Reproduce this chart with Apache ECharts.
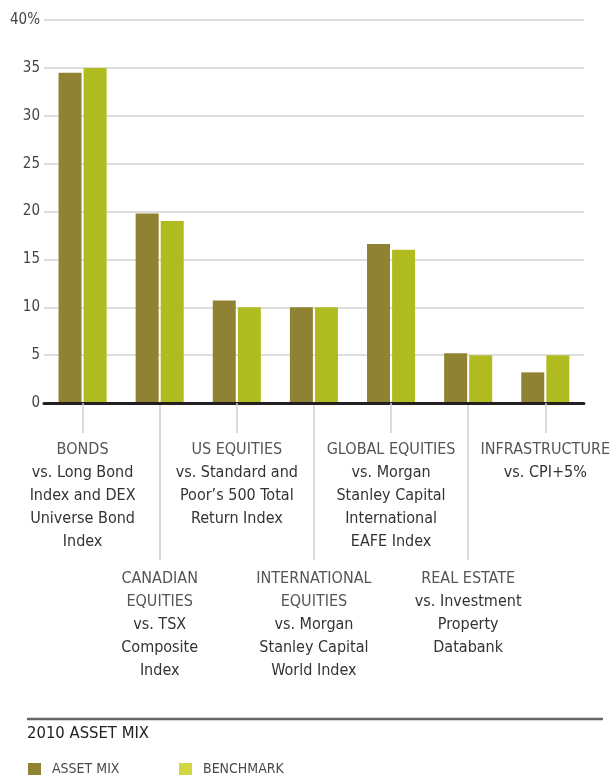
<!DOCTYPE html>
<html>
<head>
<meta charset="utf-8">
<script src="https://cdn.jsdelivr.net/npm/echarts@6/dist/echarts.min.js"></script>
<style>
html,body{margin:0;padding:0;background:#fff;}
#c{width:613px;height:776px;}
</style>
</head>
<body>
<div id="c"></div>
<script>
var categories = ['Bonds', 'Canadian Equities', 'US Equities', 'International Equities', 'Global Equities', 'Real Estate', 'Infrastructure'];
var categoryTitles = [['BONDS'], ['CANADIAN', 'EQUITIES'], ['US EQUITIES'], ['INTERNATIONAL', 'EQUITIES'], ['GLOBAL EQUITIES'], ['REAL ESTATE'], ['INFRASTRUCTURE']];
var categoryBenchmarks = [
  ['vs. Long Bond', 'Index and DEX', 'Universe Bond', 'Index'],
  ['vs. TSX', 'Composite', 'Index'],
  ['vs. Standard and', 'Poor\u2019s 500 Total', 'Return Index'],
  ['vs. Morgan', 'Stanley Capital', 'World Index'],
  ['vs. Morgan', 'Stanley Capital', 'International', 'EAFE Index'],
  ['vs. Investment', 'Property', 'Databank'],
  ['vs. CPI+5%']
];
var assetMix = [34.5, 19.8, 10.7, 10.0, 16.6, 5.2, 3.2];
var benchmark = [35.0, 19.0, 10.0, 10.0, 16.0, 5.0, 5.0];
var yTicks = [0, 5, 10, 15, 20, 25, 30, 35, 40];
var chartTitle = '2010 ASSET MIX';
var seriesNames = ['ASSET MIX', 'BENCHMARK'];

var FONT = "'Liberation Sans Narrow', 'DejaVu Sans Condensed', 'Roboto', sans-serif";
var C_ASSET = '#8f8232';
var C_BENCH = '#b0bb20';

var chart = echarts.init(document.getElementById('c'), null, {renderer: 'canvas'});

function labelFormatter(value, index) {
  var parts = [];
  if (index % 2 === 1) parts.push('{sp| }');
  categoryTitles[index].forEach(function (t) { parts.push('{t|' + t + '}'); });
  categoryBenchmarks[index].forEach(function (t) { parts.push('{b|' + t + '}'); });
  return parts.join('\n');
}

var legendText = {fontFamily: FONT, fontSize: 14, color: '#4a4a4a', padding: [0, 0, 0, 6]};

var option = {
  backgroundColor: '#fff',
  animation: false,
  textStyle: {fontFamily: FONT},
  grid: {left: 44, right: 29, top: 20, bottom: 373, containLabel: false},
  legend: [
    {
      data: [{name: seriesNames[0], itemStyle: {color: C_ASSET}}],
      left: 28, top: 762, itemWidth: 13, itemHeight: 12, icon: 'rect',
      padding: 0,
      textStyle: legendText
    },
    {
      data: [{name: seriesNames[1], itemStyle: {color: '#d2d640'}}],
      left: 179, top: 762, itemWidth: 13, itemHeight: 12, icon: 'rect',
      padding: 0,
      textStyle: legendText
    }
  ],
  xAxis: [
    {
      type: 'category',
      data: categories,
      position: 'bottom',
      axisLine: {show: true, lineStyle: {color: '#231f20', width: 3}},
      axisTick: {
        show: true, alignWithLabel: true, length: 30,
        interval: function (i) { return i % 2 === 0; },
        lineStyle: {color: '#cfcfcf', width: 1.5}
      },
      axisLabel: {
        interval: 0,
        margin: 35,
        formatter: labelFormatter,
        align: 'center',
        verticalAlign: 'top',
        rich: {
          sp: {lineHeight: 129, fontSize: 10, fontFamily: FONT},
          t: {fontFamily: FONT, fontSize: 16, lineHeight: 23, color: '#555'},
          b: {fontFamily: FONT, fontSize: 16, lineHeight: 23, color: '#333'}
        }
      },
      z: 5
    },
    {
      type: 'category',
      data: categories,
      position: 'bottom',
      axisLine: {show: false},
      axisTick: {
        show: true, alignWithLabel: true, length: 157,
        interval: function (i) { return i % 2 === 1; },
        lineStyle: {color: '#cfcfcf', width: 1.5}
      },
      axisLabel: {show: false}
    }
  ],
  yAxis: {
    type: 'value',
    min: 0, max: 40, interval: 5,
    axisLine: {show: false},
    axisTick: {show: false},
    splitLine: {lineStyle: {color: '#d3d3d3', width: 1.5}},
    axisLabel: {
      margin: 4,
      fontFamily: FONT, fontSize: 15, color: '#444',
      formatter: function (v) { return v === yTicks[yTicks.length - 1] ? v + '%' : String(v); }
    }
  },
  series: [
    {
      name: seriesNames[0], type: 'bar', data: assetMix,
      barWidth: 23, barGap: '9%',
      itemStyle: {color: C_ASSET}
    },
    {
      name: seriesNames[1], type: 'bar', data: benchmark,
      barWidth: 23, barGap: '9%',
      itemStyle: {color: C_BENCH}
    }
  ],
  graphic: [
    {
      type: 'line', shape: {x1: 27, y1: 719, x2: 603, y2: 719},
      style: {stroke: '#666', lineWidth: 2.5}
    },
    {
      type: 'text', left: 27, top: 725,
      style: {text: chartTitle, fontFamily: FONT, fontSize: 16.5, fill: '#222'}
    }
  ]
};
chart.setOption(option);
</script>
</body>
</html>
